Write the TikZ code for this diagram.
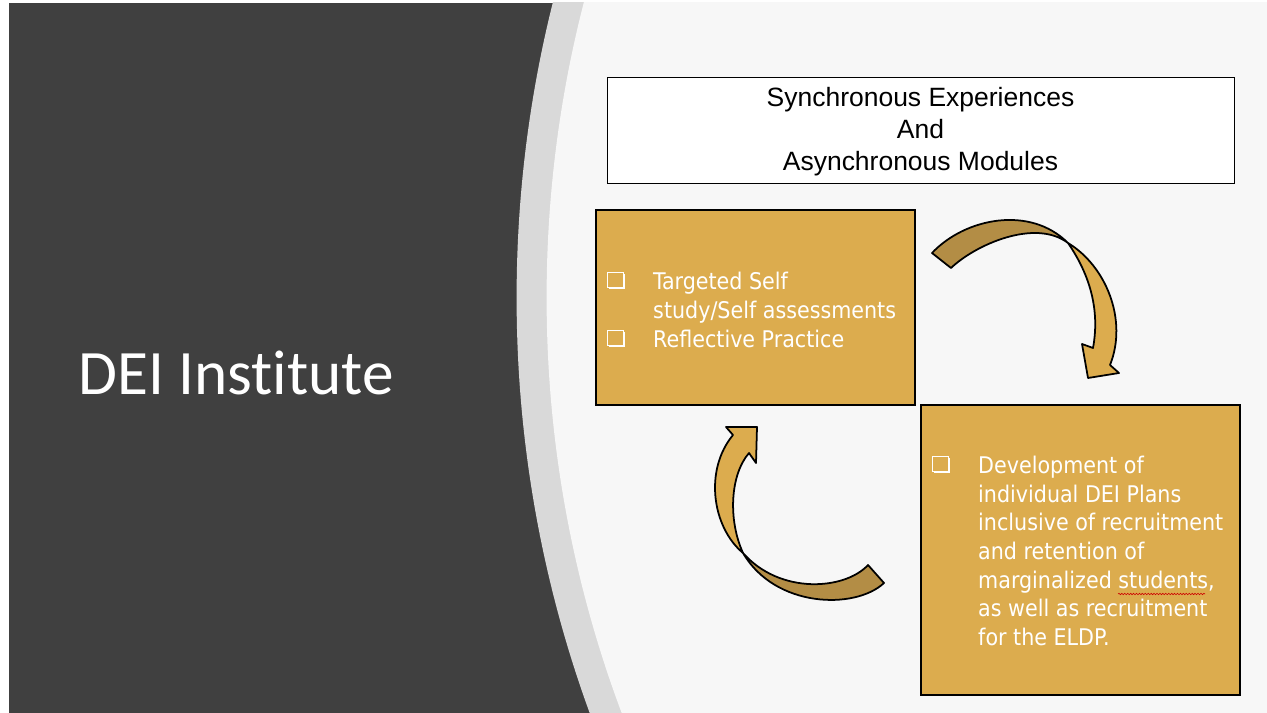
\documentclass[tikz,border=0pt]{standalone}
\usepackage{fontspec}
\usetikzlibrary{positioning, shadows, decorations.pathmorphing}
\newfontfamily\titlefont{Liberation Sans}
\newfontfamily\boxfont{DejaVu Sans Condensed}
\newfontfamily\headfont[Ligatures=NoCommon]{Carlito}
\definecolor{slidedark}{HTML}{404040}
\definecolor{slideband}{HTML}{D9D9D9}
\definecolor{slidelight}{HTML}{F7F7F7}
\definecolor{gold}{HTML}{DCAC4E}
\definecolor{golddark}{HTML}{B38D45}
\tikzset{
  goldbox/.style={draw=black, line width=1.3pt, fill=gold, inner sep=0pt},
  boxtext/.style={text=white, align=left, inner sep=0pt, anchor=west,
    font=\boxfont\fontsize{19.6}{24.7}\selectfont},
  chk/.style={draw=white, fill=gold, line width=1pt, inner sep=0pt, minimum size=0.47cm,
    drop shadow={fill=white, opacity=1, shadow xshift=1.2pt, shadow yshift=-1.2pt}},
  arrowpart/.style={draw=black, line width=1.5pt, line join=round},
}

\begin{document}
\begin{tikzpicture}[x=0.03cm, y=-0.03cm]
\useasboundingbox (0,0) rectangle (1267,713);
\fill[white] (0,0) rectangle (1267,713);

% slide background
\begin{scope}
\clip (9,3) rectangle (1267,713);
\fill[slidedark] (9,3) rectangle (1267,713);
\fill[slideband] (1727.6,297.7) circle (1211);
\fill[slidelight] (1727.6,297.7) circle (1181);
\end{scope}

\node[text=white, anchor=base west, inner sep=0pt,
  font=\headfont\fontsize{54}{60}\selectfont] (heading) at (78,395) {DEI Institute};

% top box
\node[draw=black, line width=0.8pt, fill=white, minimum width=18.81cm,
  minimum height=3.18cm] (topbox) at (920.5,130) {};
\node[align=center, inner sep=0pt, font=\titlefont\fontsize{22.6}{27.4}\selectfont]
  (toptext) at ([yshift=-0.05cm]topbox.center) {Synchronous Experiences\\And\\Asynchronous Modules};

% gold boxes
\node[goldbox, minimum width=9.57cm, minimum height=5.85cm] (studybox) at (755.5,307.5) {};
\node[goldbox, minimum width=9.57cm, minimum height=8.7cm] (planbox) at (1080.5,550) {};

\node[chk] (chkA) at (615.5,280) {};
\node[chk] (chkB) at (615.5,338) {};
\node[boxtext] (studytext) at (653,310) {Targeted Self\\study/Self assessments\\Reflective Practice};

\node[chk] (chkC) at (940.5,464) {};
\node[boxtext, font=\boxfont\fontsize{19.6}{24.5}\selectfont] (plantext) at (978,551)
  {Development of\\individual DEI Plans\\inclusive of recruitment\\and retention of\\marginalized students,\\as well as recruitment\\for the ELDP.};
\draw[red!80!black, line width=0.5pt, decorate,
  decoration={snake, amplitude=0.6pt, segment length=2.5pt}] (1118,594) -- (1205,594);

% top right arrow
\fill[golddark, arrowpart] (932,253) .. controls (965,218) and (1030,205) .. (1068,243)
  .. controls (1035,218) and (975,245) .. (951,268) -- cycle;
\fill[gold, arrowpart] (1068,243) .. controls (1106,266) and (1128,320) .. (1110,365)
  -- (1119,373) -- (1088,378) -- (1082,344) -- (1093,348)
  .. controls (1100,310) and (1090,275) .. (1068,243) -- cycle;

% bottom left arrow
\fill[golddark, arrowpart] (884,583) .. controls (855,610) and (775,608) .. (743,553)
  .. controls (780,595) and (845,590) .. (868,565) -- cycle;
\fill[gold, arrowpart] (743,553) .. controls (712,527) and (704,470) .. (733,435)
  -- (726,427) -- (757,427) -- (756,463) -- (749,453)
  .. controls (730,475) and (728,520) .. (743,553) -- cycle;
\end{tikzpicture}
\end{document}
